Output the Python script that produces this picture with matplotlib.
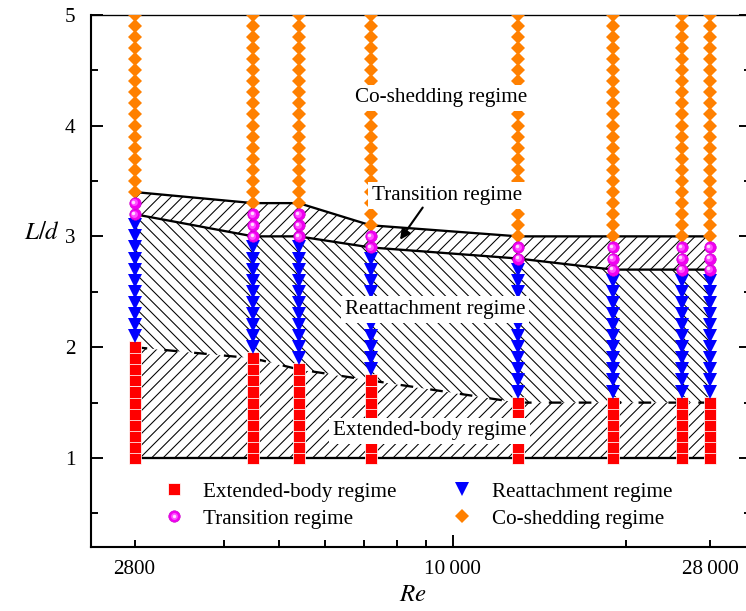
import matplotlib
matplotlib.use("Agg")
import matplotlib.pyplot as plt
from matplotlib.lines import Line2D
from matplotlib.transforms import offset_copy

# Re of the tested cases
RE = [2800, 4500, 5400, 7200, 13000, 19000, 25000, 28000]
# L/d values tested at every Re
LD = [1.0, 1.1, 1.2, 1.3, 1.4, 1.5, 1.6, 1.7, 1.8, 1.9,
      2.0, 2.1, 2.2, 2.3, 2.4, 2.5, 2.6, 2.7, 2.8, 2.9,
      3.0, 3.1, 3.2, 3.3, 3.4, 3.5, 3.6, 3.7, 3.8, 3.9,
      4.0, 4.1, 4.2, 4.3, 4.4, 4.5, 4.6, 4.7, 4.8, 4.9, 5.0]

# largest L/d of each regime per Re (above TRANS_TOP -> co-shedding)
EXT_TOP = [2.0, 1.9, 1.8, 1.7, 1.5, 1.5, 1.5, 1.5]
REAT_TOP = [3.1, 2.9, 2.9, 2.8, 2.7, 2.6, 2.6, 2.6]
TRANS_TOP = [3.3, 3.2, 3.2, 3.0, 2.9, 2.9, 2.9, 2.9]

# regime boundary lines
BOUND_BASE = [1.0, 1.0, 1.0, 1.0, 1.0, 1.0, 1.0, 1.0]
BOUND_EXT = [2.0, 1.9, 1.8, 1.7, 1.5, 1.5, 1.5, 1.5]
BOUND_REAT = [3.2, 3.0, 3.0, 2.9, 2.8, 2.7, 2.7, 2.7]
BOUND_TRANS = [3.4, 3.3, 3.3, 3.1, 3.0, 3.0, 3.0, 3.0]

LABELS = ["Extended-body regime", "Transition regime",
          "Reattachment regime", "Co-shedding regime"]

DPI = 138
plt.rcParams['font.family'] = ['Liberation Serif', 'DejaVu Serif']
plt.rcParams['mathtext.fontset'] = 'stix'
plt.rcParams['hatch.linewidth'] = 0.55
FS = 11

fig = plt.figure(figsize=(746 / DPI, 611 / DPI), dpi=DPI)
ax = fig.add_axes([90.7 / 746, 1 - 546.7 / 611, (751 - 90.7) / 746, (546.7 - 14.7) / 611])

# sort the grid points into regimes
pts = {k: ([], []) for k in ("ext", "reat", "trans", "co")}
for re, e, r, t in zip(RE, EXT_TOP, REAT_TOP, TRANS_TOP):
    for ld in LD:
        if ld <= e + 1e-9:
            k = "ext"
        elif ld <= r + 1e-9:
            k = "reat"
        elif ld <= t + 1e-9:
            k = "trans"
        else:
            k = "co"
        pts[k][0].append(re)
        pts[k][1].append(ld)

# HATCHED REGIONS
ax.fill_between(RE, BOUND_BASE, BOUND_EXT, facecolor="white", edgecolor="black",
                hatch="////", linewidth=0, zorder=1)
ax.fill_between(RE, BOUND_EXT, BOUND_REAT, facecolor="white", edgecolor="black",
                hatch="\\\\\\\\", linewidth=0, zorder=1)
ax.fill_between(RE, BOUND_REAT, BOUND_TRANS, facecolor="white", edgecolor="black",
                hatch="////", linewidth=0, zorder=1)

# BOUNDARY LINES
ax.plot(RE, BOUND_BASE, color="black", lw=1.2, zorder=2)
ax.plot(RE, BOUND_EXT, color="black", lw=1.2, dashes=(5.5, 7.5), zorder=2)
ax.plot(RE, BOUND_REAT, color="black", lw=1.2, zorder=2)
ax.plot(RE, BOUND_TRANS, color="black", lw=1.2, zorder=2)

# MARKERS
sq = dict(ls="none", marker="s", ms=5.8, mfc="#ff0000", mec="white", mew=0.4)
tri = dict(ls="none", marker="v", ms=6.8, mfc="#0000ff", mec="#0000ff", mew=0)
dia = dict(ls="none", marker="D", ms=5.5, mfc="#ff8000", mec="#ff8000", mew=0)
sph = dict(ls="none", marker="o", ms=6.0, mfc="#f000f0", mec="#c800c8", mew=0.3)
sph_mid = dict(ls="none", marker="o", ms=3.6, mfc="#ff50ff", mec="none")
sph_hi = dict(ls="none", marker="o", ms=1.8, mfc="#ffd8ff", mec="none")

ax.plot(*pts["ext"], zorder=3, **sq)
ax.plot(*pts["reat"], zorder=3, **tri)
ax.plot(*pts["co"], zorder=3, **dia)
ax.plot(*pts["trans"], zorder=3, **sph)
mid = offset_copy(ax.transData, fig=fig, x=-0.7, y=0.7, units="dots")
hi = offset_copy(ax.transData, fig=fig, x=-1.6, y=1.6, units="dots")
ax.plot(*pts["trans"], transform=mid, zorder=3.1, **sph_mid)
ax.plot(*pts["trans"], transform=hi, zorder=3.2, **sph_hi)

# REGIME LABELS
box = dict(facecolor="white", edgecolor="none", pad=2.0)
ax.text(9560, 4.25, "Co-shedding regime", ha="center", va="center", fontsize=FS, bbox=box, zorder=4)
ax.text(9760, 3.37, "Transition regime", ha="center", va="center", fontsize=FS, bbox=box, zorder=4)
ax.text(9320, 2.34, "Reattachment regime", ha="center", va="center", fontsize=FS, bbox=box, zorder=4)
ax.text(9110, 1.245, "Extended-body regime", ha="center", va="center", fontsize=FS, bbox=box, zorder=4)
ax.annotate("", xy=(8100, 2.97), xytext=(8870, 3.26),
            arrowprops=dict(arrowstyle="-|>", color="black", lw=1.1, mutation_scale=11,
                            shrinkA=0, shrinkB=0), zorder=4)

# LEGEND
h_ext = Line2D([], [], **sq)
h_trans = (Line2D([], [], **sph), Line2D([], [], **sph_mid), Line2D([], [], **sph_hi))
h_reat = Line2D([], [], **tri)
h_co = Line2D([], [], **dia)
ax.legend([h_ext, h_trans, h_reat, h_co], LABELS, ncol=2, loc="upper left",
          bbox_to_anchor=(0.110, 0.122), frameon=False, fontsize=FS,
          handlelength=1.0, handletextpad=0.9, columnspacing=2.6,
          labelspacing=0.35, borderpad=0, borderaxespad=0)

# AXES
ax.set_xscale("log")
ax.set_xlim(2349, 33000)
ax.set_ylim(0.2, 5)
ax.set_xticks([10000], labels=["10\u2009000"])
ax.set_xticks([2800, 4000, 5000, 6000, 7000, 8000, 9000, 20000, 28000],
              labels=["2800", "", "", "", "", "", "", "", "28\u2009000"], minor=True)
ax.set_yticks([1, 2, 3, 4, 5])
ax.set_yticks([0.5, 1.5, 2.5, 3.5, 4.5], minor=True)
ax.tick_params(axis="both", which="both", direction="in", labelsize=FS, width=1.0)
ax.tick_params(axis="y", which="both", right=True, pad=8)
ax.tick_params(axis="x", which="both", top=False, pad=7)
ax.tick_params(which="major", length=6.5)
ax.tick_params(which="minor", length=3.5)
for s in ("left", "bottom", "right"):
    ax.spines[s].set_linewidth(1.1)
ax.spines["top"].set_linewidth(0.7)

ax.set_ylabel("$L/d$", fontsize=13, rotation=0, ha="center", va="center")
ax.yaxis.set_label_coords((42 - 90.7) / 660.3, (546.7 - 233) / 532)
ax.set_xlabel("$Re$", fontsize=13, va="center")
ax.xaxis.set_label_coords((413 - 90.7) / 660.3, (546.7 - 595) / 532)

fig.savefig("out.png", dpi=DPI)
